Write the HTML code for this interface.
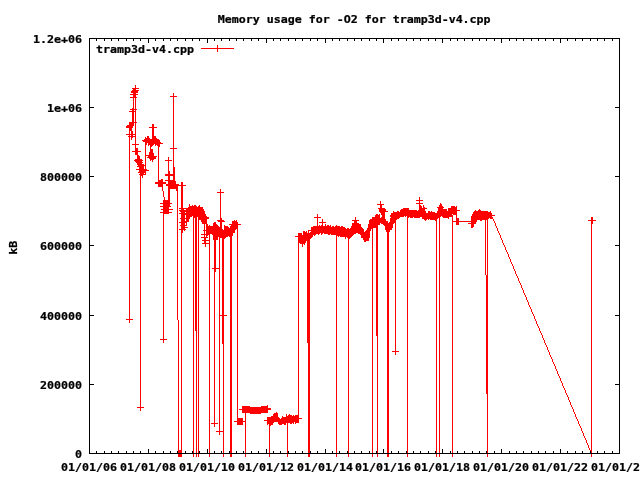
<!DOCTYPE html>
<html lang="en">
<head>
<meta charset="utf-8">
<title>Memory usage for -O2 for tramp3d-v4.cpp</title>
<style>
html,body{margin:0;padding:0;background:#fff;}
body{width:640px;height:480px;overflow:hidden;}
svg{display:block;}
svg text{font-family:"DejaVu Sans Mono","Liberation Mono",monospace;font-weight:bold;font-size:11.63px;fill:#000;stroke:#000;stroke-width:0.25px;stroke-linejoin:miter;}
</style>
</head>
<body>
<svg width="640" height="480" viewBox="0 0 640 480">
<rect x="0" y="0" width="640" height="480" fill="#ffffff"/>
<g shape-rendering="crispEdges">
<path fill="#ff0000" d="M217 45h1v3h-1zM201 48h33v1h-33zM217 49h1v3h-1zM135 85h1v3h-1zM132 88h7v1h-7zM133 89h3v1h-3zM132 90h7v1h-7zM131 91h7v2h-7zM133 93h3v1h-3zM130 94h8v1h-8zM173 93h1v3h-1zM133 95h3v2h-3zM170 96h7v1h-7zM130 97h7v1h-7zM133 98h1v10h-1zM135 98h1v11h-1zM132 108h2v1h-2zM130 109h7v1h-7zM135 110h1v1h-1zM132 110h2v1h-2zM129 111h7v1h-7zM135 112h1v10h-1zM132 112h2v10h-2zM129 122h8v1h-8zM129 123h5v2h-5zM127 125h7v1h-7zM152 124h2v3h-2zM126 126h7v2h-7zM149 127h8v1h-8zM129 128h3v3h-3zM135 123h1v11h-1zM131 131h2v3h-2zM129 131h1v3h-1zM126 134h10v1h-10zM152 128h2v8h-2zM131 135h2v1h-2zM129 135h1v1h-1zM135 135h1v1h-1zM128 136h8v1h-8zM147 136h2v2h-2zM152 136h4v2h-4zM131 137h2v1h-2zM145 137h1v1h-1zM145 138h5v1h-5zM152 138h5v1h-5zM131 138h1v2h-1zM144 139h15v1h-15zM142 140h18v1h-18zM143 141h17v1h-17zM145 142h16v1h-16zM135 137h1v7h-1zM148 143h15v1h-15zM145 143h2v2h-2zM132 144h7v1h-7zM155 144h5v1h-5zM148 144h6v1h-6zM155 145h1v1h-1zM148 145h1v1h-1zM150 145h3v1h-3zM157 145h3v1h-3zM158 146h2v1h-2zM150 146h2v1h-2zM173 97h1v51h-1zM135 145h1v3h-1zM150 147h1v2h-1zM170 148h7v1h-7zM135 148h3v3h-3zM150 149h3v3h-3zM132 151h9v1h-9zM149 152h4v1h-4zM145 145h1v10h-1zM135 152h3v3h-3zM149 153h5v2h-5zM137 155h2v1h-2zM145 155h9v1h-9zM148 156h9v1h-9zM147 157h9v1h-9zM137 156h3v3h-3zM149 158h7v1h-7zM168 157h1v3h-1zM150 159h4v1h-4zM135 159h7v1h-7zM150 160h1v1h-1zM165 160h7v1h-7zM134 160h9v1h-9zM152 160h1v2h-1zM135 161h7v1h-7zM136 162h7v1h-7zM137 163h5v1h-5zM145 156h1v9h-1zM137 164h7v1h-7zM138 165h8v1h-8zM173 149h1v18h-1zM137 166h7v1h-7zM145 166h1v3h-1zM139 167h5v2h-5zM136 169h11v1h-11zM168 161h1v10h-1zM139 170h10v1h-10zM139 171h7v1h-7zM138 172h8v1h-8zM173 167h2v7h-2zM168 171h2v3h-2zM145 173h1v1h-1zM140 173h4v1h-4zM139 174h7v1h-7zM165 174h10v2h-10zM140 175h3v1h-3zM142 176h1v2h-1zM158 147h1v33h-1zM173 176h2v4h-2zM168 176h2v4h-2zM161 179h2v1h-2zM165 180h10v1h-10zM158 180h5v2h-5zM168 181h8v3h-8zM155 182h11v2h-11zM181 182h2v3h-2zM166 184h13v1h-13zM166 185h20v1h-20zM158 184h5v3h-5zM168 186h10v3h-10zM162 187h1v4h-1zM176 189h2v2h-2zM220 189h1v3h-1zM217 192h7v1h-7zM163 191h1v6h-1zM168 189h2v11h-2zM419 197h1v3h-1zM164 197h1v3h-1zM416 200h7v1h-7zM163 200h7v3h-7zM419 201h1v2h-1zM380 201h1v3h-1zM416 203h7v1h-7zM440 203h1v1h-1zM160 203h12v1h-12zM419 204h1v1h-1zM377 204h7v1h-7zM440 204h2v1h-2zM163 204h7v2h-7zM189 204h1v2h-1zM199 205h1v1h-1zM192 205h1v1h-1zM439 205h3v1h-3zM419 205h2v1h-2zM194 205h2v1h-2zM423 205h1v2h-1zM439 206h4v1h-4zM451 206h4v1h-4zM456 206h1v1h-1zM198 206h2v1h-2zM189 206h8v1h-8zM160 206h11v1h-11zM181 186h2v22h-2zM380 205h2v3h-2zM419 206h3v2h-3zM437 207h7v1h-7zM451 207h6v1h-6zM188 207h15v1h-15zM423 207h2v1h-2zM163 207h6v2h-6zM378 208h7v1h-7zM438 208h5v1h-5zM403 208h6v1h-6zM179 208h24v1h-24zM419 208h8v1h-8zM448 208h9v2h-9zM186 209h18v1h-18zM479 209h1v1h-1zM419 209h6v1h-6zM161 209h12v1h-12zM181 209h3v1h-3zM401 209h8v1h-8zM379 209h7v2h-7zM438 209h9v2h-9zM400 210h17v1h-17zM418 210h7v1h-7zM179 210h25v1h-25zM478 210h3v1h-3zM448 210h12v1h-12zM475 210h1v1h-1zM163 210h6v2h-6zM490 211h1v1h-1zM400 211h26v1h-26zM431 211h1v1h-1zM397 211h2v1h-2zM180 211h25v1h-25zM379 211h9v1h-9zM428 211h2v1h-2zM393 211h1v1h-1zM474 211h14v1h-14zM437 211h20v2h-20zM428 212h7v1h-7zM181 212h4v1h-4zM186 212h19v1h-19zM160 212h12v1h-12zM473 212h18v1h-18zM393 212h33v1h-33zM380 212h5v1h-5zM179 213h26v1h-26zM163 213h6v1h-6zM473 213h19v1h-19zM391 213h66v1h-66zM381 213h4v2h-4zM472 214h20v1h-20zM453 214h4v1h-4zM391 214h61v1h-61zM376 214h2v1h-2zM379 214h1v1h-1zM181 214h25v1h-25zM472 215h23v1h-23zM186 215h20v1h-20zM390 215h63v1h-63zM317 214h1v3h-1zM382 215h3v2h-3zM375 215h5v2h-5zM193 216h14v1h-14zM405 216h1v1h-1zM442 216h11v1h-11zM407 216h34v1h-34zM471 216h21v1h-21zM186 216h6v1h-6zM390 216h14v1h-14zM220 193h1v25h-1zM456 215h1v3h-1zM181 215h4v3h-4zM391 217h9v1h-9zM422 217h18v1h-18zM407 217h2v1h-2zM372 217h8v1h-8zM381 217h4v1h-4zM410 217h3v1h-3zM443 217h6v1h-6zM471 217h22v1h-22zM193 217h4v1h-4zM314 217h7v1h-7zM414 217h6v1h-6zM186 217h4v1h-4zM198 217h11v2h-11zM490 218h3v1h-3zM372 218h13v1h-13zM390 218h9v1h-9zM180 218h10v1h-10zM448 218h1v1h-1zM422 218h16v1h-16zM471 218h18v1h-18zM355 217h1v3h-1zM591 217h2v3h-2zM220 218h2v2h-2zM424 219h3v1h-3zM471 219h17v1h-17zM430 219h7v1h-7zM390 219h7v1h-7zM370 219h16v1h-16zM198 219h9v1h-9zM428 219h1v1h-1zM452 217h1v4h-1zM456 218h3v3h-3zM181 219h4v2h-4zM186 219h3v2h-3zM493 219h1v2h-1zM217 220h7v1h-7zM480 220h2v1h-2zM234 220h1v1h-1zM236 220h1v1h-1zM425 220h1v1h-1zM435 220h2v1h-2zM352 220h7v1h-7zM369 220h17v1h-17zM471 220h6v1h-6zM588 220h8v1h-8zM322 219h1v3h-1zM201 220h6v2h-6zM390 220h6v2h-6zM452 221h25v1h-25zM218 221h7v1h-7zM232 221h5v1h-5zM181 221h8v1h-8zM369 221h19v2h-19zM354 221h3v2h-3zM494 221h1v2h-1zM471 222h5v1h-5zM319 222h7v1h-7zM214 222h2v1h-2zM389 222h7v1h-7zM179 222h8v1h-8zM591 221h2v3h-2zM202 222h5v2h-5zM232 222h6v2h-6zM213 223h3v1h-3zM381 223h13v1h-13zM369 223h11v1h-11zM352 223h7v1h-7zM468 223h8v1h-8zM456 222h3v3h-3zM181 223h4v2h-4zM322 223h1v2h-1zM186 223h1v2h-1zM383 224h10v1h-10zM368 224h12v1h-12zM213 224h4v1h-4zM229 224h12v1h-12zM317 218h1v8h-1zM495 223h1v3h-1zM206 224h2v2h-2zM325 224h1v2h-1zM352 224h9v2h-9zM321 225h2v1h-2zM384 225h9v1h-9zM231 225h7v1h-7zM213 225h5v1h-5zM327 225h2v1h-2zM209 225h1v1h-1zM319 225h1v1h-1zM330 225h1v1h-1zM224 225h1v1h-1zM336 225h1v1h-1zM180 225h7v1h-7zM220 222h2v5h-2zM471 224h3v3h-3zM351 226h10v1h-10zM181 226h4v1h-4zM341 226h2v1h-2zM332 226h2v1h-2zM313 226h18v1h-18zM224 226h4v1h-4zM335 226h5v1h-5zM206 226h13v1h-13zM368 225h10v3h-10zM496 226h1v2h-1zM385 226h8v2h-8zM230 226h8v2h-8zM181 227h7v1h-7zM471 227h2v1h-2zM311 227h34v1h-34zM224 227h5v1h-5zM351 227h11v1h-11zM206 227h16v2h-16zM367 228h6v1h-6zM181 228h4v1h-4zM347 228h2v1h-2zM224 228h14v1h-14zM350 228h13v1h-13zM311 228h35v1h-35zM204 224h1v6h-1zM385 228h7v2h-7zM311 229h53v1h-53zM224 229h12v1h-12zM179 229h7v1h-7zM206 229h17v1h-17zM367 229h4v1h-4zM497 228h1v3h-1zM203 230h32v1h-32zM308 230h56v1h-56zM366 230h5v1h-5zM184 230h1v1h-1zM386 230h4v2h-4zM311 231h53v1h-53zM365 231h5v1h-5zM306 231h1v1h-1zM303 231h2v1h-2zM181 230h2v3h-2zM498 231h1v2h-1zM308 231h1v2h-1zM206 231h29v2h-29zM310 232h60v1h-60zM303 232h4v1h-4zM204 231h1v3h-1zM324 233h32v1h-32zM358 233h12v1h-12zM321 233h2v1h-2zM206 233h27v1h-27zM303 233h17v1h-17zM298 233h4v2h-4zM499 233h1v2h-1zM318 234h1v1h-1zM212 234h21v1h-21zM321 234h1v1h-1zM201 234h9v1h-9zM331 234h23v1h-23zM303 234h13v1h-13zM360 234h10v1h-10zM328 234h2v1h-2zM206 235h2v1h-2zM298 235h15v1h-15zM213 235h20v1h-20zM336 235h17v1h-17zM314 235h1v1h-1zM204 235h1v2h-1zM213 236h15v1h-15zM340 236h12v1h-12zM206 236h1v1h-1zM229 236h3v1h-3zM295 236h18v1h-18zM338 236h1v1h-1zM500 235h1v3h-1zM361 235h9v3h-9zM201 237h7v1h-7zM298 237h14v1h-14zM347 237h4v1h-4zM219 237h7v1h-7zM345 237h1v2h-1zM298 238h13v1h-13zM222 238h3v1h-3zM348 238h2v1h-2zM209 235h1v5h-1zM213 237h5v3h-5zM204 238h2v2h-2zM501 238h1v2h-1zM363 238h6v2h-6zM298 239h12v2h-12zM202 240h8v1h-8zM364 240h5v1h-5zM364 241h2v1h-2zM502 240h1v3h-1zM204 241h2v2h-2zM209 241h1v2h-1zM298 241h8v2h-8zM202 243h8v1h-8zM300 243h5v1h-5zM503 243h1v2h-1zM304 244h1v1h-1zM302 244h1v3h-1zM205 244h1v3h-1zM504 245h1v2h-1zM505 247h1v3h-1zM506 250h1v2h-1zM507 252h1v2h-1zM508 254h1v3h-1zM509 257h1v2h-1zM510 259h1v3h-1zM511 262h1v2h-1zM512 264h1v2h-1zM219 238h1v30h-1zM214 240h2v28h-2zM513 266h1v3h-1zM212 268h8v1h-8zM514 269h1v2h-1zM214 269h2v3h-2zM515 271h1v3h-1zM485 220h1v55h-1zM487 220h1v55h-1zM516 274h1v2h-1zM517 276h1v2h-1zM518 278h1v3h-1zM519 281h1v2h-1zM520 283h1v2h-1zM521 285h1v3h-1zM522 288h1v2h-1zM523 290h1v3h-1zM524 293h1v2h-1zM525 295h1v2h-1zM526 297h1v3h-1zM527 300h1v2h-1zM528 302h1v3h-1zM529 305h1v2h-1zM530 307h1v2h-1zM531 309h1v3h-1zM532 312h1v2h-1zM222 239h2v76h-2zM219 269h1v46h-1zM533 314h1v2h-1zM219 315h8v1h-8zM129 137h1v182h-1zM534 316h1v3h-1zM177 191h1v129h-1zM126 319h7v1h-7zM535 319h1v2h-1zM129 320h1v3h-1zM536 321h1v3h-1zM537 324h1v2h-1zM538 326h1v2h-1zM195 218h2v113h-2zM539 328h1v3h-1zM540 331h1v2h-1zM541 333h1v2h-1zM376 228h2v108h-2zM542 335h1v3h-1zM163 214h1v125h-1zM543 338h1v2h-1zM160 339h7v1h-7zM307 241h3v102h-3zM544 340h1v3h-1zM163 340h1v3h-1zM222 316h2v28h-2zM545 343h1v2h-1zM546 345h1v2h-1zM547 347h1v3h-1zM395 223h1v128h-1zM548 350h1v2h-1zM392 351h7v1h-7zM549 352h1v3h-1zM395 352h1v3h-1zM550 355h1v2h-1zM551 357h1v2h-1zM552 359h1v3h-1zM553 362h1v2h-1zM554 364h1v2h-1zM555 366h1v3h-1zM556 369h1v2h-1zM557 371h1v3h-1zM558 374h1v2h-1zM559 376h1v2h-1zM560 378h1v3h-1zM561 381h1v2h-1zM562 383h1v3h-1zM563 386h1v2h-1zM564 388h1v2h-1zM565 390h1v3h-1zM486 275h2v119h-2zM566 393h1v2h-1zM567 395h1v2h-1zM568 397h1v3h-1zM569 400h1v2h-1zM570 402h1v3h-1zM267 405h1v1h-1zM140 176h1v231h-1zM571 405h1v2h-1zM242 406h8v1h-8zM261 406h7v1h-7zM137 407h7v1h-7zM242 407h26v1h-26zM572 407h1v2h-1zM242 408h29v1h-29zM239 409h32v1h-32zM140 408h1v3h-1zM573 409h1v3h-1zM242 410h26v3h-26zM276 412h1v1h-1zM574 412h1v2h-1zM274 413h4v1h-4zM250 413h11v1h-11zM298 243h1v172h-1zM289 414h1v1h-1zM273 414h5v2h-5zM286 414h1v2h-1zM293 415h1v1h-1zM295 415h4v1h-4zM288 415h4v1h-4zM575 414h1v3h-1zM282 416h1v1h-1zM271 416h7v1h-7zM286 416h13v1h-13zM237 229h1v189h-1zM282 417h17v1h-17zM267 417h12v1h-12zM576 417h1v2h-1zM281 418h21v1h-21zM267 418h13v1h-13zM267 419h32v1h-32zM245 413h1v8h-1zM237 418h6v3h-6zM577 419h1v2h-1zM264 420h35v1h-35zM267 421h32v1h-32zM234 421h12v1h-12zM214 272h1v151h-1zM278 422h16v1h-16zM267 422h7v1h-7zM295 422h4v1h-4zM578 421h1v3h-1zM290 423h2v1h-2zM293 423h1v1h-1zM295 423h1v1h-1zM211 423h7v1h-7zM267 423h6v1h-6zM278 423h8v1h-8zM237 422h6v3h-6zM279 424h3v1h-3zM284 424h2v1h-2zM267 424h1v1h-1zM269 424h4v1h-4zM579 424h1v2h-1zM269 425h2v1h-2zM214 424h1v3h-1zM580 426h1v2h-1zM219 316h1v115h-1zM223 344h1v87h-1zM581 428h1v3h-1zM216 431h8v1h-8zM582 431h1v2h-1zM219 432h1v3h-1zM583 433h1v3h-1zM584 436h1v2h-1zM585 438h1v2h-1zM586 440h1v3h-1zM587 443h1v2h-1zM588 445h1v3h-1zM591 224h1v226h-1zM181 233h1v217h-1zM178 320h1v130h-1zM589 448h1v2h-1zM590 450h2v1h-2zM407 218h1v235h-1zM193 218h1v235h-1zM439 218h1v235h-1zM198 220h1v233h-1zM436 221h1v232h-1zM452 222h1v231h-1zM372 229h1v224h-1zM387 232h2v221h-2zM336 236h1v217h-1zM230 237h2v216h-2zM348 239h1v214h-1zM209 244h1v209h-1zM196 331h1v122h-1zM377 336h1v117h-1zM308 343h2v110h-2zM487 394h1v59h-1zM245 422h1v31h-1zM287 423h1v30h-1zM269 426h1v27h-1zM223 432h1v21h-1zM178 450h4v3h-4zM591 451h1v2h-1zM452 454h1v3h-1zM287 454h1v3h-1zM377 454h1v3h-1zM223 454h1v3h-1zM245 454h1v3h-1zM308 454h2v3h-2zM487 454h1v3h-1zM387 454h2v3h-2zM269 454h1v3h-1zM348 454h1v3h-1zM436 454h1v3h-1zM372 454h1v3h-1zM196 454h1v3h-1zM407 454h1v3h-1zM209 454h1v3h-1zM198 454h1v3h-1zM178 454h4v3h-4zM193 454h1v3h-1zM230 454h2v3h-2zM336 454h1v3h-1zM591 454h1v3h-1zM439 454h1v3h-1z"/>
<path fill="#000000" d="M89 38h531v1h-531zM133 39h1v2h-1zM155 39h1v2h-1zM177 39h1v2h-1zM199 39h1v2h-1zM221 39h1v2h-1zM243 39h1v2h-1zM516 39h1v2h-1zM538 39h1v2h-1zM302 39h1v2h-1zM126 39h1v2h-1zM553 39h1v2h-1zM214 39h1v2h-1zM104 39h1v2h-1zM509 39h1v2h-1zM170 39h1v2h-1zM192 39h1v2h-1zM236 39h1v2h-1zM258 39h1v2h-1zM280 39h1v2h-1zM531 39h1v2h-1zM575 39h1v2h-1zM582 39h1v2h-1zM597 39h1v2h-1zM339 39h1v2h-1zM361 39h1v2h-1zM185 39h1v2h-1zM590 39h1v2h-1zM273 39h1v2h-1zM612 39h1v2h-1zM472 39h1v2h-1zM494 39h1v2h-1zM163 39h1v2h-1zM229 39h1v2h-1zM251 39h1v2h-1zM295 39h1v2h-1zM317 39h1v2h-1zM332 39h1v2h-1zM354 39h1v2h-1zM398 39h1v2h-1zM420 39h1v2h-1zM310 39h1v2h-1zM486 39h1v2h-1zM464 39h1v2h-1zM288 39h1v2h-1zM376 39h1v2h-1zM347 39h1v2h-1zM369 39h1v2h-1zM391 39h1v2h-1zM413 39h1v2h-1zM96 39h1v2h-1zM118 39h1v2h-1zM140 39h1v2h-1zM435 39h1v2h-1zM457 39h1v2h-1zM479 39h1v2h-1zM450 39h1v2h-1zM406 39h1v2h-1zM523 39h1v2h-1zM545 39h1v2h-1zM567 39h1v2h-1zM604 39h1v2h-1zM428 39h1v2h-1zM111 39h1v2h-1zM560 39h1v4h-1zM148 39h1v4h-1zM207 39h1v4h-1zM383 39h1v4h-1zM266 39h1v4h-1zM442 39h1v4h-1zM325 39h1v4h-1zM501 39h1v4h-1zM619 39h1v68h-1zM89 39h1v68h-1zM615 107h5v1h-5zM89 107h5v1h-5zM89 108h1v68h-1zM619 108h1v68h-1zM615 176h5v1h-5zM89 176h5v1h-5zM89 177h1v68h-1zM619 177h1v68h-1zM615 245h5v1h-5zM89 245h5v1h-5zM89 246h1v69h-1zM619 246h1v69h-1zM615 315h5v1h-5zM89 315h5v1h-5zM89 316h1v68h-1zM619 316h1v68h-1zM615 384h5v1h-5zM89 384h5v1h-5zM89 385h1v68h-1zM619 385h1v68h-1zM560 449h1v4h-1zM501 449h1v4h-1zM325 449h1v4h-1zM266 449h1v4h-1zM207 449h1v4h-1zM148 449h1v4h-1zM442 449h1v4h-1zM383 449h1v4h-1zM133 451h1v2h-1zM155 451h1v2h-1zM177 451h1v2h-1zM199 451h1v2h-1zM221 451h1v2h-1zM243 451h1v2h-1zM516 451h1v2h-1zM538 451h1v2h-1zM302 451h1v2h-1zM126 451h1v2h-1zM553 451h1v2h-1zM214 451h1v2h-1zM104 451h1v2h-1zM509 451h1v2h-1zM170 451h1v2h-1zM192 451h1v2h-1zM236 451h1v2h-1zM258 451h1v2h-1zM280 451h1v2h-1zM531 451h1v2h-1zM575 451h1v2h-1zM582 451h1v2h-1zM597 451h1v2h-1zM339 451h1v2h-1zM361 451h1v2h-1zM185 451h1v2h-1zM590 451h1v2h-1zM273 451h1v2h-1zM612 451h1v2h-1zM472 451h1v2h-1zM494 451h1v2h-1zM163 451h1v2h-1zM229 451h1v2h-1zM251 451h1v2h-1zM295 451h1v2h-1zM317 451h1v2h-1zM332 451h1v2h-1zM354 451h1v2h-1zM398 451h1v2h-1zM420 451h1v2h-1zM310 451h1v2h-1zM486 451h1v2h-1zM464 451h1v2h-1zM288 451h1v2h-1zM376 451h1v2h-1zM347 451h1v2h-1zM369 451h1v2h-1zM391 451h1v2h-1zM413 451h1v2h-1zM96 451h1v2h-1zM118 451h1v2h-1zM140 451h1v2h-1zM435 451h1v2h-1zM457 451h1v2h-1zM479 451h1v2h-1zM450 451h1v2h-1zM406 451h1v2h-1zM523 451h1v2h-1zM545 451h1v2h-1zM567 451h1v2h-1zM604 451h1v2h-1zM428 451h1v2h-1zM111 451h1v2h-1zM89 453h531v1h-531z"/>
</g>
<g>
<text transform="translate(82,458) scale(1,0.93)" text-anchor="end">0</text>
<text transform="translate(82,389) scale(1,0.93)" text-anchor="end">200000</text>
<text transform="translate(82,320) scale(1,0.93)" text-anchor="end">400000</text>
<text transform="translate(82,250) scale(1,0.93)" text-anchor="end">600000</text>
<text transform="translate(82,181) scale(1,0.93)" text-anchor="end">800000</text>
<text transform="translate(82,112) scale(1,0.93)" text-anchor="end">1e+06</text>
<text transform="translate(82,43) scale(1,0.93)" text-anchor="end">1.2e+06</text>
<text transform="translate(89,471) scale(1,0.93)" text-anchor="middle">01/01/06</text>
<text transform="translate(148,471) scale(1,0.93)" text-anchor="middle">01/01/08</text>
<text transform="translate(207,471) scale(1,0.93)" text-anchor="middle">01/01/10</text>
<text transform="translate(266,471) scale(1,0.93)" text-anchor="middle">01/01/12</text>
<text transform="translate(325,471) scale(1,0.93)" text-anchor="middle">01/01/14</text>
<text transform="translate(383,471) scale(1,0.93)" text-anchor="middle">01/01/16</text>
<text transform="translate(442,471) scale(1,0.93)" text-anchor="middle">01/01/18</text>
<text transform="translate(501,471) scale(1,0.93)" text-anchor="middle">01/01/20</text>
<text transform="translate(560,471) scale(1,0.93)" text-anchor="middle">01/01/22</text>
<text transform="translate(619,471) scale(1,0.93)" text-anchor="middle">01/01/24</text>
<text transform="translate(354.2,23) scale(1,0.93)" text-anchor="middle">Memory usage for -O2 for tramp3d-v4.cpp</text>
<text transform="translate(96,53) scale(1,0.93)" text-anchor="start">tramp3d-v4.cpp</text>
<text transform="translate(17,247.7) rotate(-90) scale(1,0.93)" text-anchor="middle">kB</text>
</g>
</svg>
</body>
</html>
